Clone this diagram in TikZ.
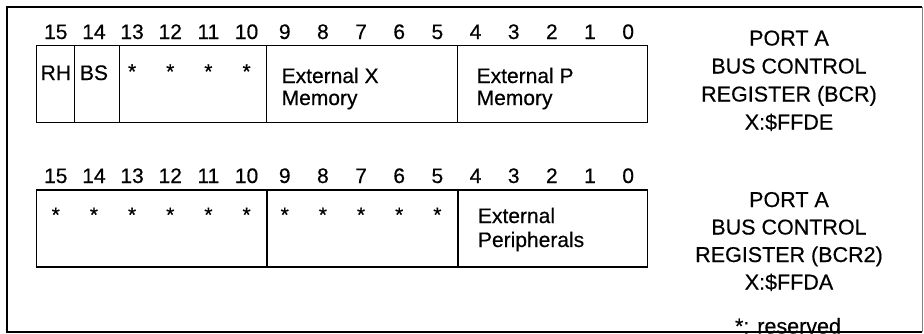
\documentclass[tikz,border=0pt]{standalone}
\usepackage{fontspec}
\setmainfont{Liberation Sans}[FakeBold=0.4]
\begin{document}
\begin{tikzpicture}[x=1pt,y=-1pt,
  every node/.style={inner sep=0pt, outer sep=0pt},
  txt/.style={font=\fontsize{21}{25}\selectfont},
  lbl/.style={font=\fontsize{21.5}{26}\selectfont, anchor=base},
  field/.style={draw, line width=1.2pt},
  frame/.style={line width=2pt}]
\useasboundingbox (0,0) rectangle (924,333);
% outer frame
\draw[frame] (922,7) -- (7,7) -- (7,332) -- (922,332);
\draw[gray, line width=0.8pt] (922,7) -- (922,332);
% ---------- BCR ----------
\foreach \i in {0,...,15}
  \node[txt, anchor=base] (ta\i) at ({36.7+(15-\i+0.5)*38.16}, 39) {\i};
\draw[field] (36.7,45.7) rectangle (74.7,122.7);
\draw[field] (74.7,45.7) rectangle (119.3,122.7);
\draw[field] (119.3,45.7) rectangle (266.7,122.7);
\draw[field] (266.7,45.7) rectangle (457.5,122.7);
\draw[field] (457.5,45.7) rectangle (647.3,122.7);
\node[txt, anchor=base west] (rh) at (40.7,80) {RH};
\node[txt, anchor=base west] (bs) at (80,80) {BS};
\foreach \i in {13,12,11,10}
  \node[txt, anchor=base] (sa\i) at ({36.7+(15-\i+0.5)*38.16}, 78.7) {*};
\node[txt, anchor=base west] (exa) at (281.7,83) {External X};
\node[txt, anchor=base west] (exb) at (281.7,105) {Memory};
\node[txt, anchor=base west] (epa) at (476.7,83) {External P};
\node[txt, anchor=base west] (epb) at (476.7,105) {Memory};
\node[lbl] (la1) at (789,45.5) {PORT A};
\node[lbl] (la2) at (789,73.5) {BUS CONTROL};
\node[lbl] (la3) at (789,101.5) {REGISTER (BCR)};
\node[lbl] (la4) at (789,129.5) {X:\$FFDE};
% ---------- BCR2 ----------
\foreach \i in {0,...,15}
  \node[txt, anchor=base] (tb\i) at ({36.7+(15-\i+0.5)*38.16}, 183) {\i};
\draw[field] (36.7,190) rectangle (267,267);
\draw[field] (267,190) rectangle (458,267);
\draw[field] (458,190) rectangle (647.3,267);
\foreach \i in {15,14,...,5}
  \node[txt, anchor=base] (sb\i) at ({36.7+(15-\i+0.5)*38.16}, 222) {*};
\node[txt, anchor=base west] (pa) at (478,223) {External};
\node[txt, anchor=base west] (pb) at (478,247) {Peripherals};
\node[lbl] (lb1) at (789,207) {PORT A};
\node[lbl] (lb2) at (789,234.5) {BUS CONTROL};
\node[lbl] (lb3) at (789,262) {REGISTER (BCR2)};
\node[lbl] (lb4) at (789,289.5) {X:\$FFDA};
\node[lbl] (res) at (788,333.5) {*: reserved};
\end{tikzpicture}
\end{document}
